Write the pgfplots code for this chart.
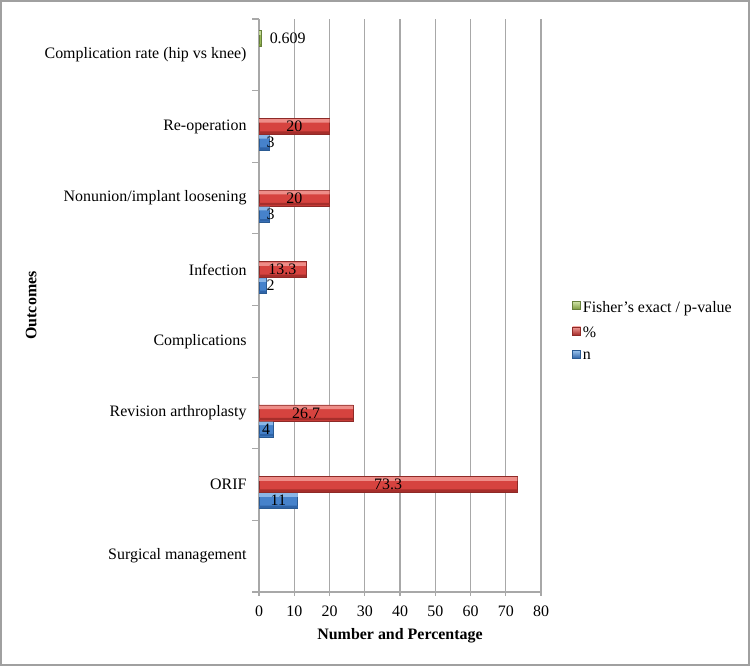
\documentclass[border=0pt]{standalone}
\usepackage{pgfplots}
\usepackage{pgfplotstable}
\pgfplotsset{compat=1.18}
\usepackage{fontspec}
\setmainfont{Liberation Serif}

% bar colours: highlight, body, outline
\definecolor{nTop}{HTML}{9CC4EE}
\definecolor{nMid}{HTML}{4682CB}
\definecolor{nBot}{HTML}{2F64A8}
\definecolor{nLine}{HTML}{2A5A92}
\definecolor{pTop}{HTML}{F4A09B}
\definecolor{pMid}{HTML}{D6433F}
\definecolor{pBot}{HTML}{A62E2B}
\definecolor{pLine}{HTML}{8E2A27}
\definecolor{fTop}{HTML}{CFE3A6}
\definecolor{fMid}{HTML}{98B957}
\definecolor{fBot}{HTML}{7B9A3C}
\definecolor{fLine}{HTML}{66803A}
\definecolor{gridgray}{HTML}{A8A8A8}
\definecolor{framegray}{HTML}{A0A0A0}

% y: category position (0 = Surgical management ... 7 = Complication rate)
\pgfplotstableread{
y v
1 11
2 4
4 2
5 3
6 3
}\tblN
\pgfplotstableread{
y v
1 73.3
2 26.7
4 13.3
5 20
6 20
}\tblP
\pgfplotstableread{
y v
7 0.609
}\tblF

\begin{document}
\begin{tikzpicture}[x=1bp,y=1bp]
\useasboundingbox (0,0) rectangle (750,666);
\draw[framegray,line width=1.5bp] (1,1) rectangle (749,665);

\begin{axis}[
  at={(259bp,74bp)}, anchor=south west,
  scale only axis, width=282bp, height=573bp,
  font=\fontsize{16}{18}\selectfont,
  /pgf/number format/assume math mode=true,
  xmin=0, xmax=80, xtick={0,10,...,80},
  ymin=-0.5, ymax=7.5,
  ytick={0,...,7},
  yticklabels={Surgical management, ORIF, Revision arthroplasty, Complications,
    Infection, Nonunion/implant loosening, Re-operation, Complication rate (hip vs knee)},
  minor ytick={-0.5,0.5,...,7.5},
  axis lines*=left,
  axis line style={gridgray, line width=1.2bp, -},
  xmajorgrids, major grid style={gridgray, line width=1.2bp},
  major x tick style={gridgray, line width=1.2bp},
  major y tick style={draw=none},
  minor y tick style={gridgray, line width=1.2bp},
  tick align=outside,
  major tick length=4bp, minor tick length=7bp,
  yticklabel style={anchor=east, xshift=-5bp},
  xticklabel style={yshift=-6bp},
  xlabel={\textbf{Number and Percentage}},
  ylabel={\textbf{Outcomes}},
  xlabel style={at={(rel axis cs:0.5,0)}, anchor=north, yshift=-33bp},
  ylabel style={at={(rel axis cs:-0.808,0.5)}, anchor=center},
  xbar, bar width=0.224,
  table/x=v, table/y=y, table/meta=v,
  point meta=explicit symbolic,
  legend style={draw=none, fill=none, at={(1.1,0.4555)}, anchor=west,
    font=\fontsize{16}{18}\selectfont, row sep=9bp,
    legend cell align=left},
  reverse legend,
  clip=false,
]

% n
\addplot[bar shift=-0.224, draw=nLine, fill=nMid, line width=0.6bp,
  legend image code/.code={\shade[top color=nTop,bottom color=nBot,draw=nLine,line width=0.5bp]
    (0bp,-2bp) rectangle (8bp,6bp);},
  visualization depends on={rawx \as \rawx},
  nodes near coords,
  every node near coord/.append style={anchor=center, text=black,
    shift={(axis direction cs:{-\rawx+ifthenelse(\rawx<3.5,3.3,\rawx/2)},0)}}]
  table {\tblN};

% percentage
\addplot[bar shift=0, draw=pLine, fill=pMid, line width=0.6bp,
  legend image code/.code={\shade[top color=pTop,bottom color=pBot,draw=pLine,line width=0.5bp]
    (0bp,-2bp) rectangle (8bp,6bp);},
  visualization depends on={rawx \as \rawx},
  nodes near coords,
  every node near coord/.append style={anchor=center, text=black,
    shift={(axis direction cs:{-\rawx/2},0)}}]
  table {\tblP};

% Fisher's exact test p-value
\addplot[bar shift=0.224, draw=fLine, fill=fMid, line width=0.6bp,
  legend image code/.code={\shade[top color=fTop,bottom color=fBot,draw=fLine,line width=0.5bp]
    (0bp,-2bp) rectangle (8bp,6bp);},
  nodes near coords,
  every node near coord/.append style={anchor=west, text=black, xshift=5bp}]
  table {\tblF};

% bevel highlight along the top edge of each bar
\addplot[forget plot, bar shift=-0.146, bar width=0.05, draw=none, fill=nTop, fill opacity=0.8]
  table[meta=] {\tblN};
\addplot[forget plot, bar shift=0.078, bar width=0.05, draw=none, fill=pTop, fill opacity=0.8]
  table[meta=] {\tblP};
\addplot[forget plot, bar shift=0.302, bar width=0.05, draw=none, fill=fTop, fill opacity=0.8]
  table[meta=] {\tblF};

% darker lower edge of each bar
\addplot[forget plot, bar shift=-0.31, bar width=0.035, draw=none, fill=nBot]
  table[meta=] {\tblN};
\addplot[forget plot, bar shift=-0.086, bar width=0.035, draw=none, fill=pBot]
  table[meta=] {\tblP};
\addplot[forget plot, bar shift=0.138, bar width=0.035, draw=none, fill=fBot]
  table[meta=] {\tblF};

\legend{n, \%, Fisher’s exact / p-value}
\end{axis}
\end{tikzpicture}
\end{document}
